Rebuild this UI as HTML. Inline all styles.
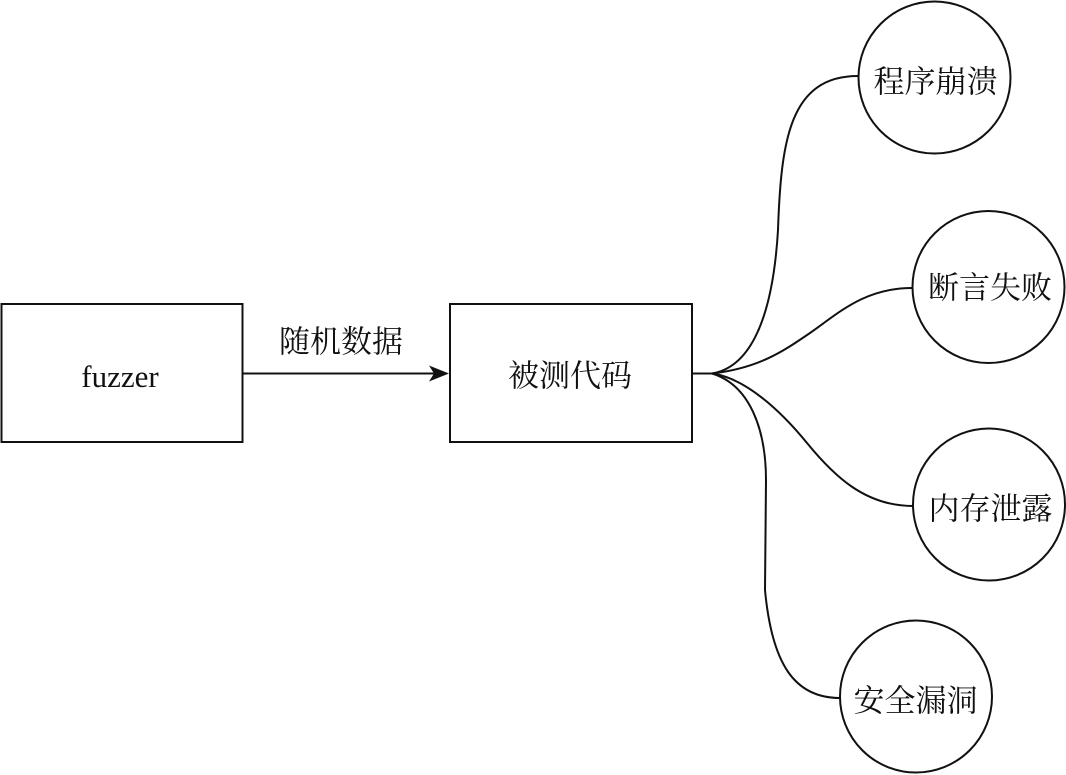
<!DOCTYPE html>
<html>
<head>
<meta charset="utf-8">
<style>
html,body{margin:0;padding:0;background:#fff;}
svg{display:block;}
text{font-family:"Liberation Serif","Noto Serif CJK SC",serif;fill:#111;}
</style>
</head>
<body>
<svg width="1066" height="775" viewBox="0 0 1066 775" xmlns="http://www.w3.org/2000/svg">
  <rect x="0" y="0" width="1066" height="775" fill="#fff"/>
  <g fill="none" stroke="#111" stroke-width="2">
    <!-- boxes -->
    <rect x="1.5" y="304" width="241" height="138"/>
    <rect x="450" y="304" width="242" height="138"/>
    <!-- arrow line -->
    <line x1="242.5" y1="373.5" x2="436" y2="373.5"/>
    <!-- fan start -->
    <line x1="692" y1="373.5" x2="712" y2="373.5"/>
    <!-- curve 1 -->
    <path d="M712,373.5 C745,368 772,330 778,230 C781,140 790,76 858,76"/>
    <!-- curve 2 -->
    <path d="M712,373.5 C760,368 785,350 810,333 C840,312 865,288 912,288"/>
    <!-- curve 3 -->
    <path d="M712,373.5 C745,378 780,410 807,443 C834,476 865,506 913,506"/>
    <!-- curve 4 -->
    <path d="M712,373.5 C750,385 766,430 766,480 L765,590 C772,665 795,698 840,698"/>
    <!-- circles -->
    <circle cx="934.5" cy="77.5" r="76"/>
    <circle cx="988.5" cy="287" r="76"/>
    <circle cx="989" cy="504.5" r="76"/>
    <circle cx="916" cy="696.5" r="76"/>
  </g>
  <polygon points="449,373.5 429,365.5 434,373.5 429,381.5" fill="#111"/>
  <!-- labels -->
  <text x="120" y="387" font-size="31" text-anchor="middle">fuzzer</text>
  <text x="341" y="342" font-size="31" text-anchor="middle" dominant-baseline="central">随机数据</text>
  <text x="570" y="376" font-size="31" text-anchor="middle" dominant-baseline="central">被测代码</text>
  <text x="935.5" y="82" font-size="31" text-anchor="middle" dominant-baseline="central">程序崩溃</text>
  <text x="990" y="288" font-size="31" text-anchor="middle" dominant-baseline="central">断言失败</text>
  <text x="990.5" y="509" font-size="31" text-anchor="middle" dominant-baseline="central">内存泄露</text>
  <text x="915.5" y="701" font-size="31" text-anchor="middle" dominant-baseline="central">安全漏洞</text>
</svg>
</body>
</html>
